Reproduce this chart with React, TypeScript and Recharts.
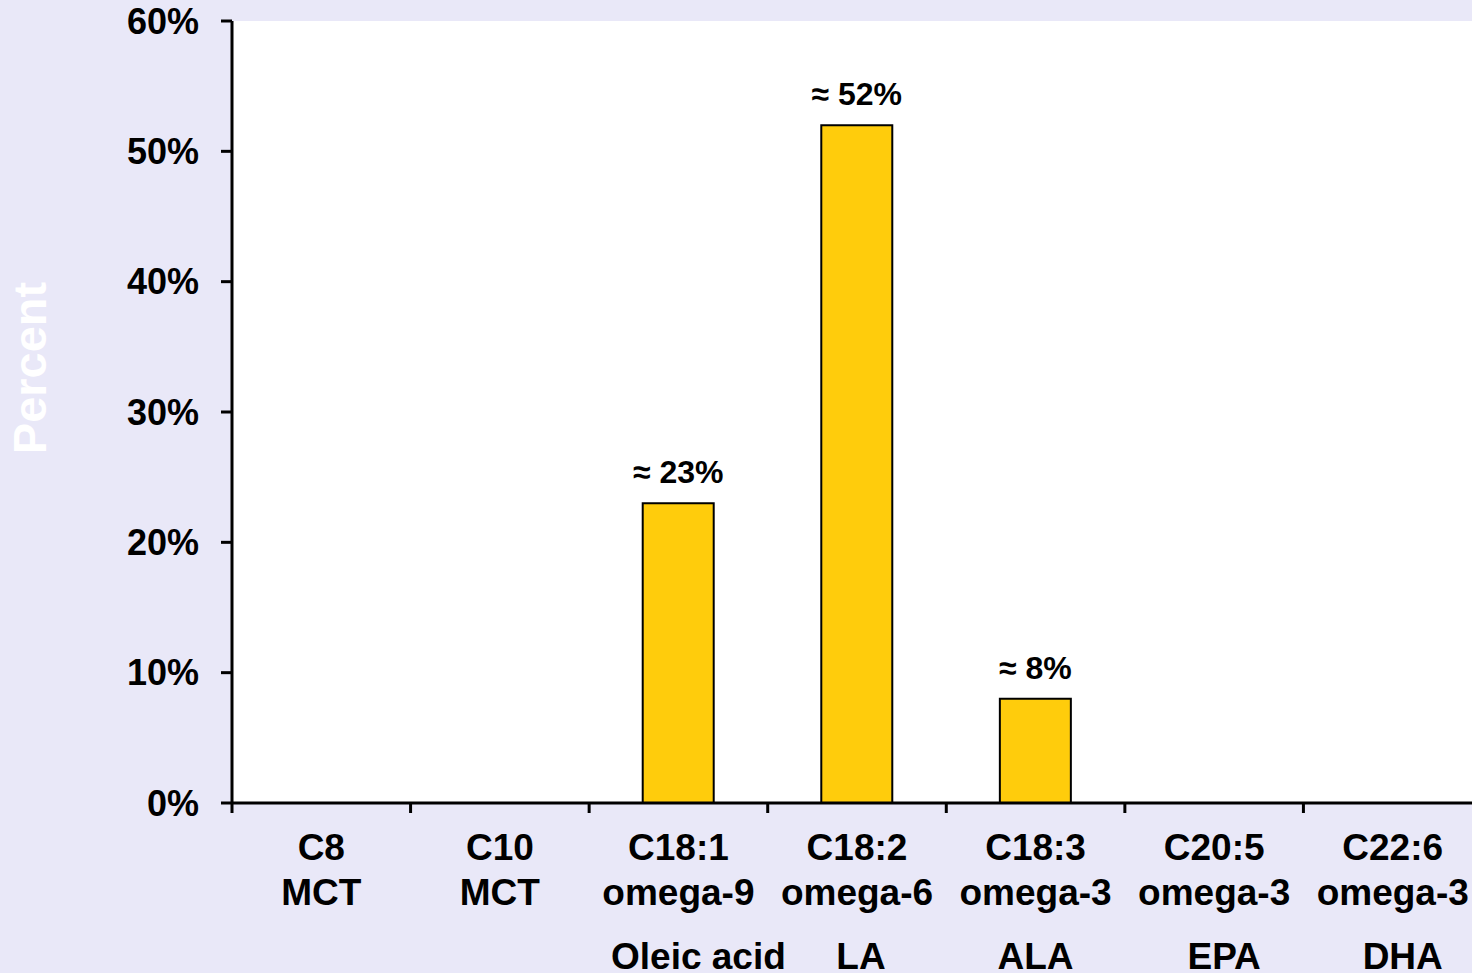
import React from 'react';
import { BarChart, Bar, XAxis, YAxis, CartesianGrid, LabelList, Label } from 'recharts';

// Fatty-acid composition
const categories = ['C8', 'C10', 'C18:1', 'C18:2', 'C18:3', 'C20:5', 'C22:6'];
const subLabels = ['MCT', 'MCT', 'omega-9', 'omega-6', 'omega-3', 'omega-3', 'omega-3'];
const commonNames = ['', '', 'Oleic acid', 'LA', 'ALA', 'EPA', 'DHA'];
const percentValues = [0, 0, 23, 52, 8, 0, 0];
const yTicks = [0, 10, 20, 30, 40, 50, 60];

const data = categories.map((name, i) => ({
  name,
  sub: subLabels[i],
  common: commonNames[i],
  value: percentValues[i],
}));

const FONT = "Arial, 'Liberation Sans', Helvetica, sans-serif";
const CHART_W = 1482;
const CHART_H = 985;
const AXIS_W = 232;
const BAND = (CHART_W - AXIS_W) / categories.length;
// horizontal nudges for the common-name row, which sits a little off-centre
const COMMON_DX = [0, 0, 20, 4, 0, 10, 10];

const CategoryTick = (props: any) => {
  const { x, y, index } = props;
  const d = data[index];
  const left = x - BAND / 2;
  const right = x + BAND / 2;
  return (
    <g>
      <line x1={left} y1={y} x2={left} y2={y + 10} stroke="#000" strokeWidth={3} />
      {index === data.length - 1 && (
        <line x1={right} y1={y} x2={right} y2={y + 10} stroke="#000" strokeWidth={3} />
      )}
      <text x={x} y={y + 57} textAnchor="middle" fontFamily={FONT} fontWeight={700} fontSize={37} fill="#000">
        {d.name}
      </text>
      <text x={x} y={y + 102} textAnchor="middle" fontFamily={FONT} fontWeight={700} fontSize={37} fill="#000">
        {d.sub}
      </text>
      {d.common && (
        <text
          x={x + COMMON_DX[index]}
          y={y + 166}
          textAnchor="middle"
          fontFamily={FONT}
          fontWeight={700}
          fontSize={37}
          fill="#000"
        >
          {d.common}
        </text>
      )}
    </g>
  );
};

const ValueLabel = (props: any) => {
  const { x, y, width, value } = props;
  if (!value || value <= 0) return null;
  return (
    <text x={x + width / 2} y={y - 20} textAnchor="middle" fontFamily={FONT} fontWeight={700} fontSize={32} fill="#000">
      {`≈ ${value}%`}
    </text>
  );
};

const PercentLabel = () => (
  <text
    x={46}
    y={368}
    transform="rotate(-90, 46, 368)"
    textAnchor="middle"
    fontFamily={FONT}
    fontWeight={700}
    fontSize={47}
    fill="#ffffff"
  >
    Percent
  </text>
);

export default function App() {
  return (
    <div
      style={{
        position: 'absolute',
        left: 0,
        top: 0,
        width: 1472,
        height: 973,
        overflow: 'hidden',
        background: '#E9E8F8',
      }}
    >
      <BarChart
        width={CHART_W}
        height={CHART_H}
        data={data}
        margin={{ top: 21, right: 0, bottom: 0, left: 0 }}
        barCategoryGap="30%"
      >
        <CartesianGrid fill="#ffffff" stroke="none" horizontal={false} vertical={false} />
        <XAxis
          dataKey="name"
          interval={0}
          height={182}
          tickSize={0}
          tickMargin={0}
          tickLine={false}
          axisLine={{ stroke: '#000', strokeWidth: 3 }}
          tick={<CategoryTick />}
        />
        <YAxis
          width={AXIS_W}
          domain={[0, 60]}
          ticks={yTicks}
          interval={0}
          tickFormatter={(v: number) => `${v}%`}
          tickSize={11}
          tickMargin={22}
          axisLine={{ stroke: '#000', strokeWidth: 3 }}
          tickLine={{ stroke: '#000', strokeWidth: 3 }}
          tick={{ fontFamily: FONT, fontWeight: 700, fontSize: 36, fill: '#000' }}
        >
          <Label content={<PercentLabel />} />
        </YAxis>
        <Bar dataKey="value" fill="#FFCC0C" stroke="#000" strokeWidth={2} isAnimationActive={false}>
          <LabelList dataKey="value" content={<ValueLabel />} />
        </Bar>
      </BarChart>
    </div>
  );
}
